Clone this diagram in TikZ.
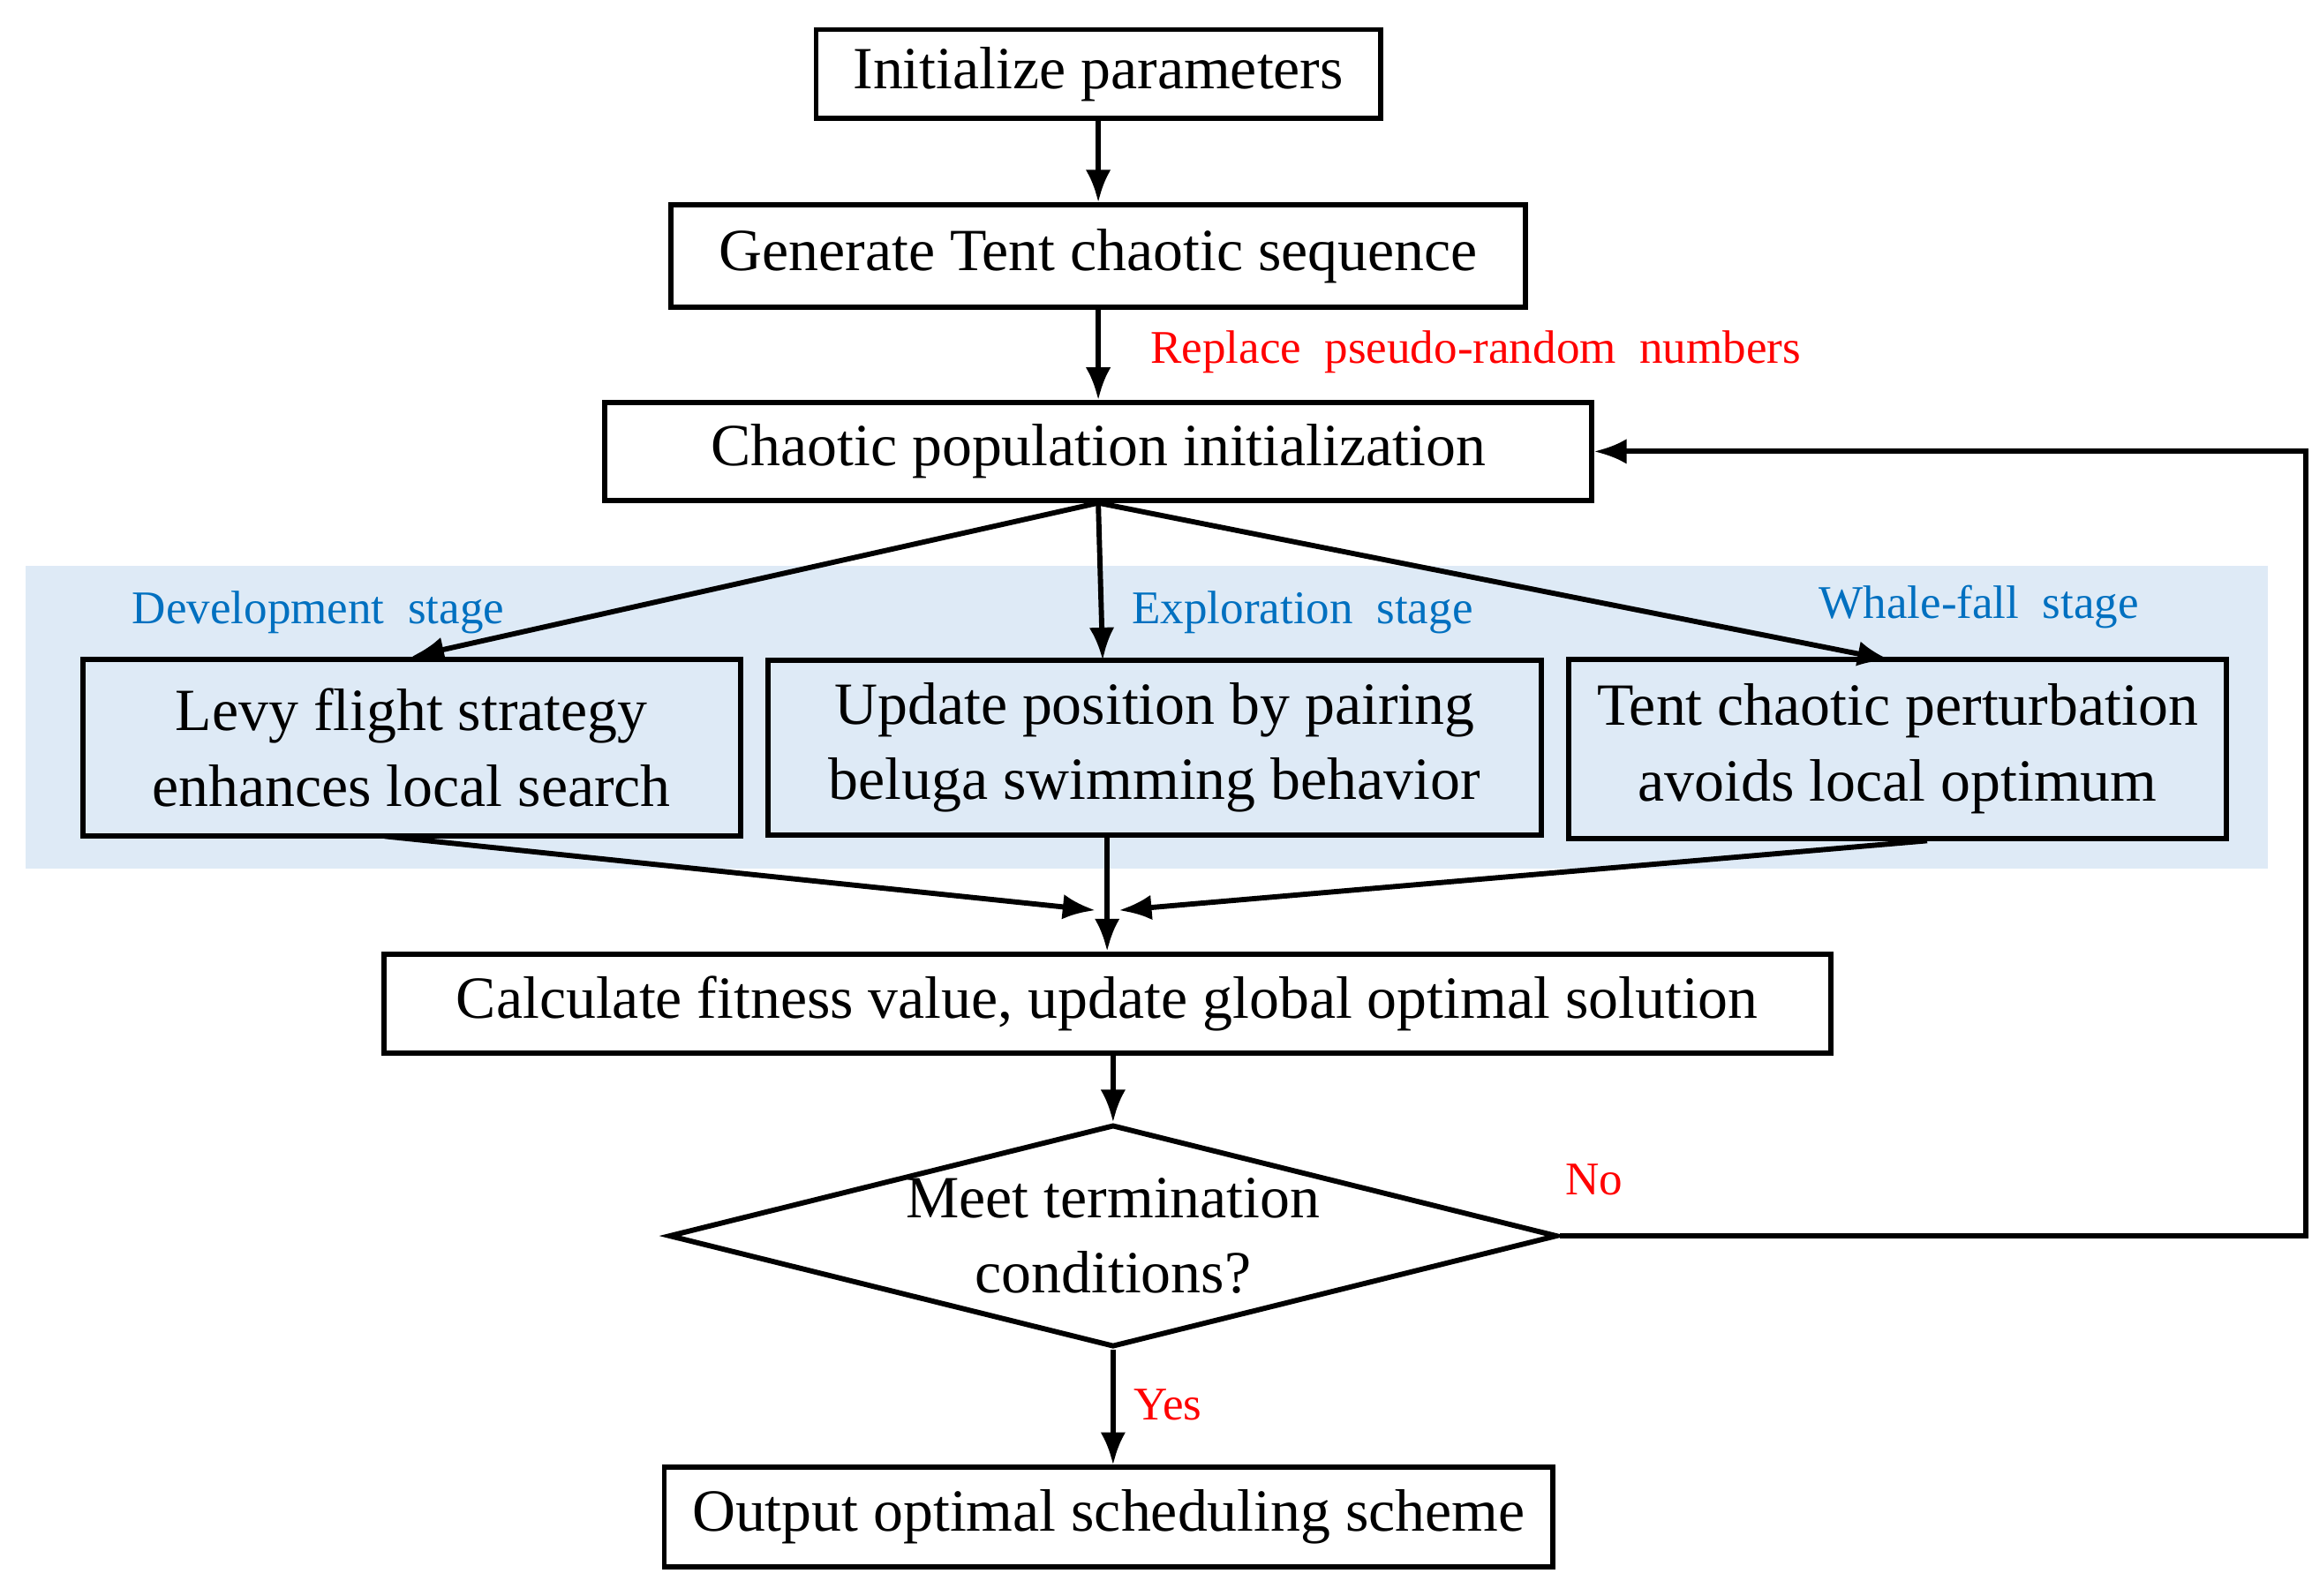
\documentclass[tikz,border=0pt]{standalone}
\usepackage{fontspec}
\setmainfont{Liberation Serif}
\usetikzlibrary{shapes.geometric,arrows.meta}
\definecolor{band}{RGB}{222,234,246}
\definecolor{lblue}{RGB}{0,112,192}
\begin{document}
\begin{tikzpicture}[x=0.01cm,y=-0.01cm,
  box/.style={draw,line width=1pt,inner sep=0pt,align=center,font=\fontsize{11.5}{14.5}\selectfont},
  arr/.style={line width=1pt,-{Latex[length=2.2mm,width=1.7mm]}},
  red/.style={text=red,font=\fontsize{9}{11}\selectfont},
  stage/.style={text=lblue,font=\fontsize{9}{11}\selectfont}]
\useasboundingbox (0,0) rectangle (1562,1078);
\fill[band] (17,382) rectangle (1532,587);
\node[box,minimum width=3.81cm,minimum height=0.6cm] (init) at (742,50) {Initialize parameters};
\node[box,minimum width=5.77cm,minimum height=0.69cm] (gen) at (742,173) {Generate Tent chaotic sequence};
\node[box,minimum width=6.66cm,minimum height=0.66cm] (pop) at (742,305) {Chaotic population initialization};
\node[box,minimum width=4.44cm,minimum height=1.19cm] (levy) at (278,505) {Levy flight strategy\\enhances local search};
\node[box,minimum width=5.22cm,minimum height=1.18cm] (upd) at (780,505) {Update position by pairing\\beluga swimming behavior};
\node[box,minimum width=4.44cm,minimum height=1.21cm] (tent) at (1282,506) {Tent chaotic perturbation\\avoids local optimum};
\node[box,minimum width=9.77cm,minimum height=0.67cm] (calc) at (748,678) {Calculate fitness value, update global optimal solution};
\node[draw,line width=1pt,shape=diamond,minimum width=6cm,minimum height=1.5cm,inner sep=0pt] (dec) at (752,835) {};
\node[align=center,font=\fontsize{11.5}{14.5}\selectfont] (dect) at (752,835) {Meet termination\\conditions?};
\node[box,minimum width=6cm,minimum height=0.67cm] (out) at (749,1025) {Output optimal scheduling scheme};
\coordinate (m1) at (740,615);
\coordinate (m2) at (756,615);
\coordinate (fr) at (1558,835);
\coordinate (fu) at (1558,305);
\draw[arr] (init) -- (gen);
\draw[arr] (gen) -- (pop);
\draw[arr] (pop.south) -- (levy.north);
\draw[arr] (pop.south) -- (745,446);
\draw[arr] (pop.south) -- (1277,446);
\draw[arr] (260,565) -- (m1);
\draw[arr] (1302,568) -- (m2);
\draw[arr] (748,564) -- (calc.north -| 748,0);
\draw[arr] (calc.south -| dec.north) -- (dec.north);
\draw[arr] (dec.south) -- (out.north -| dec.south);
\draw[arr] (dec.east) -- (fr) -- (fu) -- (pop.east);
\node[red] (rl) at (997,238) {Replace\ \ pseudo-random\ \ numbers};
\node[stage] (s1) at (215,414) {Development\ \ stage};
\node[stage] (s2) at (880,414) {Exploration\ \ stage};
\node[stage] (s3) at (1337,410) {Whale-fall\ \ stage};
\node[red] (no) at (1077,797) {No};
\node[red] (yes) at (789,949) {Yes};
\end{tikzpicture}
\end{document}
